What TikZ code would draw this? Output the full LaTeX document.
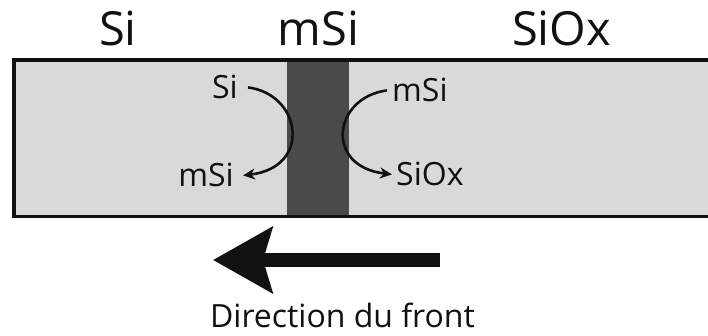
\documentclass[tikz,border=0pt]{standalone}
\usepackage{fontspec}
\setmainfont{Open Sans}
\usepackage{tikz}
\usetikzlibrary{arrows.meta,calc,positioning}
\definecolor{Ink}{HTML}{111111}
\definecolor{Layer}{HTML}{D9D9D9}
\definecolor{Front}{HTML}{4A4A4A}

\begin{document}
\begin{tikzpicture}[x=1pt,y=-1pt,
    phase/.style={anchor=base,inner sep=0pt,text=Ink,font=\fontsize{47}{50}\selectfont},
    species/.style={inner sep=0pt,text=Ink,font=\fontsize{32}{34}\selectfont},
    reaction/.style={draw=Ink,line width=2.6pt,-{Stealth[length=12pt,width=11pt]}}]
      \useasboundingbox (0,0) rectangle (708,336);
      % layer stack with the moving front
      \fill[Layer] (14,60) rectangle (712,216.5);
      \fill[Front] (287,60) rectangle (349,216.5);
      \draw[Ink,line width=3.4pt,line join=miter] (712,60) -- (14,60) -- (14,216.5) -- (712,216.5);
      \foreach \name/\x/\lbl in {
        tsi/118/Si,
        tmsi/318.5/mSi,
        tsiox/561.5/SiOx}{
        \node[phase] (\name) at (\x,46) {\lbl};
      }
      % species on both sides of the front
      \node[species,anchor=base east] (siL) at (238,99) {Si};
      \node[species,anchor=base east] (msiL) at (234,187) {mSi};
      \node[species,anchor=base west] (msiR) at (392,102) {mSi};
      \node[species,anchor=base west] (sioxR) at (396,186) {SiOx};
      \draw[reaction] ([xshift=10pt]siL.east) .. controls +(54,7) and +(69,-8) .. ([xshift=9pt]msiL.east);
      \draw[reaction] ([xshift=-5pt]msiR.west) .. controls +(-54,7) and +(-68,-8) .. ([xshift=-4pt]sioxR.west);
      % direction of the front
      \coordinate (fronttail) at (440,260);
      \coordinate (fronthead) at (213,260);
      \draw[Ink,line width=14pt,-{Stealth[length=59pt,width=65pt,inset=9pt]}] (fronttail) -- (fronthead);
      \node[species,anchor=base] (dirlabel) at (342.5,327) {Direction du front};
    \end{tikzpicture}
\end{document}
